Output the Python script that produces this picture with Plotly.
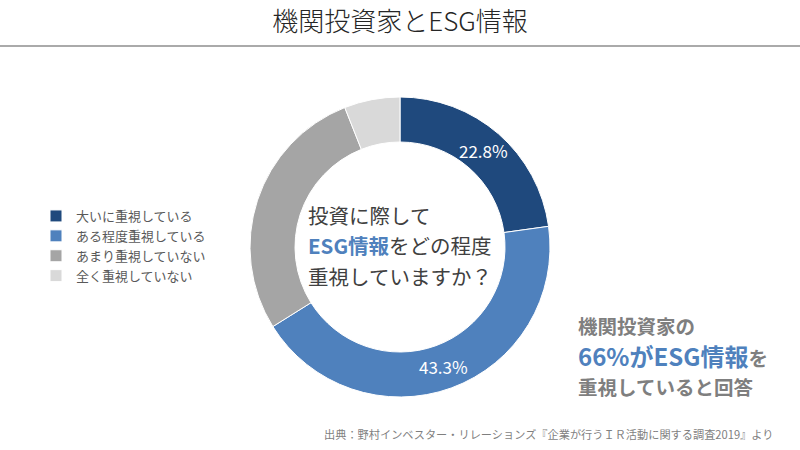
import math
import plotly.graph_objects as go

# data
labels = ["大いに重視している", "ある程度重視している", "あまり重視していない", "全く重視していない"]
values = [22.8, 43.3, 27.9, 6.0]
slice_text = ["22.8%", "43.3%", "", ""]

# colours
COLOR_NAVY = "#1F497D"
COLOR_BLUE = "#4F81BD"
COLOR_GREY = "#A5A5A5"
COLOR_LIGHT = "#D9D9D9"
COLOR_TEXT = "#404040"
COLOR_SUB = "#7F7F7F"
FONT = "Noto Sans CJK JP"

W, H = 800, 450
HOLE = 0.7
# donut box in pixels (left, top, size)
PIE_L, PIE_T, PIE_D = 250, 97, 300


def py(y_px):
    # pixel row from the top -> paper y
    return (H - y_px) / H


fig = go.Figure()

fig.add_trace(
    go.Pie(
        labels=labels,
        values=values,
        textinfo="none",
        hole=HOLE,
        sort=False,
        direction="clockwise",
        rotation=0,
        marker=dict(
            colors=[COLOR_NAVY, COLOR_BLUE, COLOR_GREY, COLOR_LIGHT],
            line=dict(color="white", width=1),
        ),
        domain=dict(x=[PIE_L / W, (PIE_L + PIE_D) / W], y=[py(PIE_T + PIE_D), py(PIE_T)]),
        showlegend=True,
    )
)

# slice labels, placed at the middle of each slice on the ring
cx, cy = PIE_L + PIE_D / 2, PIE_T + PIE_D / 2
r_mid = PIE_D / 2 * (1 + HOLE) / 2
total = sum(values)
cum = 0
for v, t in zip(values, slice_text):
    ang = 2 * math.pi * (cum + v / 2) / total
    cum += v
    if not t:
        continue
    fig.add_annotation(
        x=(cx + r_mid * math.sin(ang)) / W, y=py(cy - r_mid * math.cos(ang)),
        xref="paper", yref="paper", text=t, showarrow=False,
        xanchor="center", yanchor="middle",
        font=dict(size=17, color="white", family=FONT),
    )

# centre question
center_lines = [
    "投資に際して",
    f"<b><span style='color:{COLOR_BLUE}'>ESG情報</span></b>をどの程度",
    "重視していますか？",
]
for line, y in zip(center_lines, [215, 245, 276]):
    fig.add_annotation(
        x=306 / W, y=py(y), xref="paper", yref="paper",
        text=line, showarrow=False, xanchor="left", yanchor="middle",
        font=dict(size=20.5, color=COLOR_TEXT, family=FONT),
    )

# right side message
right_lines = [
    "<b>機関投資家の</b>",
    f"<b><span style='color:{COLOR_BLUE};font-size:24px'>66%がESG情報</span>を</b>",
    "<b>重視していると回答</b>",
]
for line, y in zip(right_lines, [325, 355, 386]):
    fig.add_annotation(
        x=576 / W, y=py(y), xref="paper", yref="paper",
        text=line, showarrow=False, xanchor="left", yanchor="middle",
        font=dict(size=19.5, color=COLOR_SUB, family=FONT),
    )

# source
fig.add_annotation(
    x=776 / W, y=py(434), xref="paper", yref="paper",
    text="出典：野村インベスター・リレーションズ『企業が行うＩＲ活動に関する調査2019』より",
    showarrow=False, xanchor="right", yanchor="middle",
    font=dict(size=11.2, color=COLOR_SUB, family=FONT),
)

# title rule
fig.add_shape(
    type="line", xref="paper", yref="paper",
    x0=0, x1=1, y0=py(46), y1=py(46),
    line=dict(color="#AAAAAA", width=2),
)

fig.update_layout(
    width=W,
    height=H,
    paper_bgcolor="white",
    plot_bgcolor="white",
    margin=dict(l=0, r=0, t=0, b=0),
    font=dict(family=FONT, color=COLOR_TEXT),
    title=dict(
        text="機関投資家とESG情報",
        x=0.5, xanchor="center",
        y=py(22), yanchor="middle",
        font=dict(size=26, color="#262626", family=FONT, weight=300),
    ),
    legend=dict(
        x=36 / W, xanchor="left",
        y=py(201), yanchor="top",
        font=dict(size=13, color="#595959", family=FONT),
        itemwidth=30,
        tracegroupgap=0,
        bgcolor="rgba(0,0,0,0)",
    ),
)

fig.write_html(
    "out.html",
    config={"displayModeBar": False},
    post_script="document.body.style.margin='0';",
)
